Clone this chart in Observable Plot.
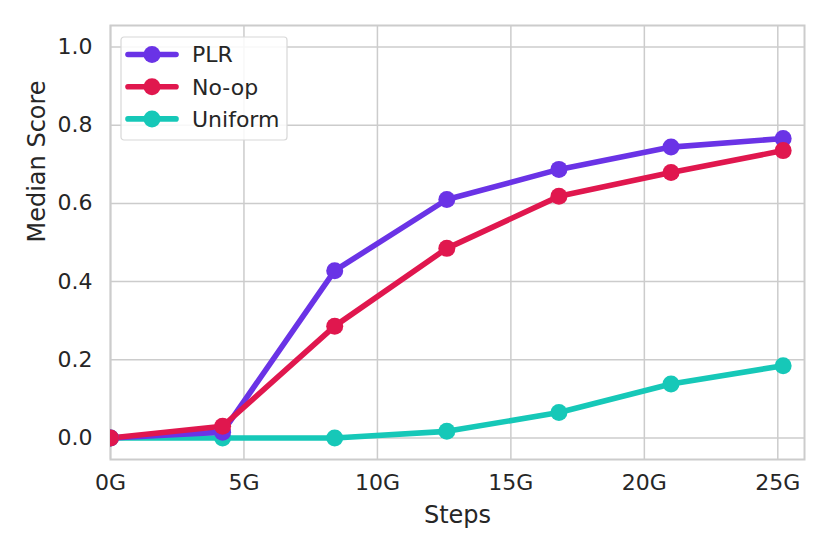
<!DOCTYPE html>
<html>
<head>
<meta charset="utf-8">
<script src="https://cdn.jsdelivr.net/npm/d3@7"></script>
<script src="https://cdn.jsdelivr.net/npm/@observablehq/plot@0.6"></script>
<style>
  html, body { margin: 0; padding: 0; background: #fff; }
  #chart { position: relative; width: 830px; height: 554px; }
  #chart svg { font-family: "DejaVu Sans", sans-serif; }
</style>
</head>
<body>
<div id="chart"></div>
<script>
// Data (steps in billions, "G")
const steps = [0, 4.2, 8.4, 12.6, 16.8, 21.0, 25.2];
const plr     = [0.0, 0.015, 0.428, 0.610, 0.687, 0.744, 0.766];
const noop    = [0.0, 0.030, 0.286, 0.485, 0.618, 0.679, 0.735];
const uniform = [0.0, 0.000, 0.000, 0.017, 0.065, 0.138, 0.185];
const seriesNames = ["PLR", "No-op", "Uniform"];
const seriesColors = ["#6a33e6", "#e0174e", "#16c8b8"];
const xTicks = [0, 5, 10, 15, 20, 25];
const yTicks = [0, 0.2, 0.4, 0.6, 0.8, 1.0];

const seriesValues = {"PLR": plr, "No-op": noop, "Uniform": uniform};
// drawing order: Uniform bottom, then PLR, then No-op on top
const drawOrder = ["Uniform", "PLR", "No-op"];
const data = drawOrder.flatMap(s => steps.map((x, i) => ({series: s, x, y: seriesValues[s][i]})));

const textColor = "#262626";
const gridColor = "#cccccc";
const tickFont = 22;

const chart = Plot.plot({
  width: 830,
  height: 554,
  marginLeft: 110,
  marginRight: 26,
  marginTop: 25,
  marginBottom: 95,
  style: {fontSize: "22px", color: textColor, background: "#fff", overflow: "visible"},
  x: {domain: [0, 26], ticks: xTicks, tickFormat: d => d + "G", tickSize: 0, label: null},
  y: {domain: [-0.055, 1.055], ticks: yTicks, tickFormat: d3.format(".1f"), tickSize: 0, label: null},
  color: {domain: seriesNames, range: seriesColors},
  marks: [
    Plot.gridX(xTicks, {stroke: gridColor, strokeOpacity: 1, strokeWidth: 1.5}),
    Plot.gridY(yTicks, {stroke: gridColor, strokeOpacity: 1, strokeWidth: 1.5}),
    Plot.frame({stroke: gridColor, strokeWidth: 2}),
    Plot.axisX({ticks: xTicks, tickFormat: d => d + "G", tickSize: 0, tickPadding: 15, fontSize: tickFont, fill: textColor, label: null}),
    Plot.axisY({ticks: yTicks, tickFormat: d3.format(".1f"), tickSize: 0, tickPadding: 18, fontSize: tickFont, fill: textColor, label: null}),
    ...drawOrder.map(s => Plot.line(data.filter(d => d.series === s), {x: "x", y: "y", stroke: "series", strokeWidth: 5.6, clip: true})),
    ...drawOrder.map(s => Plot.dot(data.filter(d => d.series === s), {x: "x", y: "y", fill: "series", r: 8.5, clip: true})),
    Plot.text(["Steps"], {frameAnchor: "bottom", dy: 63, fontSize: 24, fill: textColor}),
    Plot.text(["Median Score"], {frameAnchor: "left", dx: -73, rotate: -90, fontSize: 24, fill: textColor})
  ]
});
document.getElementById("chart").appendChild(chart);

const svg = d3.select(chart);
// enforce tick label size
svg.selectAll('g[aria-label$="tick label"]').attr("font-size", tickFont).style("font-size", tickFont + "px");
svg.selectAll('g[aria-label$="tick label"] text').style("font-size", tickFont + "px");

// Legend inside plot (upper left)
const lg = svg.append("g").attr("transform", "translate(121,37)").attr("text-anchor", "start");
lg.append("rect").attr("x", 0).attr("y", 0).attr("width", 166).attr("height", 103)
  .attr("rx", 3).attr("fill", "#fff").attr("fill-opacity", 0.85)
  .attr("stroke", "#d8d8d8").attr("stroke-width", 1.2);
seriesNames.forEach((name, i) => {
  const cy = 17.5 + i * 32.2;
  lg.append("line").attr("x1", 7).attr("x2", 55).attr("y1", cy).attr("y2", cy)
    .attr("stroke", seriesColors[i]).attr("stroke-width", 5.6).attr("stroke-linecap", "round");
  lg.append("circle").attr("cx", 31).attr("cy", cy).attr("r", 8.5).attr("fill", seriesColors[i]);
  lg.append("text").attr("x", 71).attr("y", cy).attr("dy", "0.36em")
    .attr("text-anchor", "start")
    .attr("font-size", 22).attr("fill", textColor).text(name);
});
</script>
</body>
</html>
